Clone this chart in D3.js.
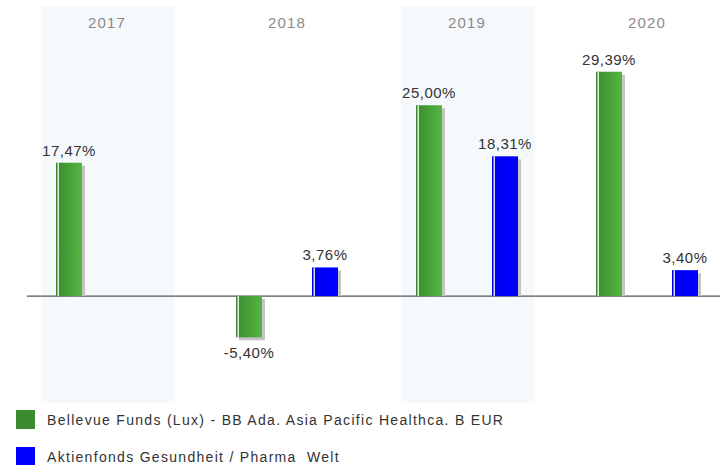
<!DOCTYPE html>
<html lang="de">
<head>
<meta charset="utf-8">
<title>Jahresperformance</title>
<script src="https://cdn.jsdelivr.net/npm/d3@7"></script>
<style>
  body { margin: 0; background: #fff; }
  text { font-family: "Liberation Sans", Arial, sans-serif; white-space: pre; }
</style>
</head>
<body>
<script>
// data
var years = ["2017", "2018", "2019", "2020"];
var seriesNames = ["Bellevue Funds (Lux) - BB Ada. Asia Pacific Healthca. B EUR",
                   "Aktienfonds Gesundheit / Pharma  Welt"];
var fundValues = [17.47, -5.40, 25.00, 29.39];
var benchValues = [null, 3.76, 18.31, 3.40];
var seriesColors = ["#3a8a2e", "#0000ff"];

var w = 720, h = 465;

var svg = d3.select("body").append("svg")
  .attr("width", w)
  .attr("height", h);

// gradients for the bars
var defs = svg.append("defs");
var g1 = defs.append("linearGradient").attr("id", "gGreen");
g1.append("stop").attr("offset", "0%").attr("stop-color", "#3a8a2e");
g1.append("stop").attr("offset", "60%").attr("stop-color", "#4aa63a");
g1.append("stop").attr("offset", "100%").attr("stop-color", "#56b444");
var g2 = defs.append("linearGradient").attr("id", "gBlue");
g2.append("stop").attr("offset", "0%").attr("stop-color", "#0000f0");
g2.append("stop").attr("offset", "100%").attr("stop-color", "#0000ff");

// scales
var x = d3.scaleBand().domain(years).range([17, 737]);
var xInner = d3.scalePoint().domain([0, 1]).range([52, 128]);
var y = d3.scaleLinear().domain([-14, 38]).range([403, 6]);
var barW = 26;

// shaded bands every other year
svg.selectAll("rect.band")
  .data(years.filter(function(d, i) { return i % 2 == 0; }))
  .enter().append("rect")
  .attr("class", "band")
  .attr("x", function(d) { return x(d) + 24; })
  .attr("y", y.range()[1])
  .attr("width", x.bandwidth() - 46)
  .attr("height", y.range()[0] - y.range()[1])
  .attr("fill", "#f5f9fb");

// year labels
svg.selectAll("text.year")
  .data(years)
  .enter().append("text")
  .attr("class", "year")
  .attr("x", function(d) { return x(d) + x.bandwidth() / 2; })
  .attr("y", 28)
  .attr("text-anchor", "middle")
  .attr("fill", "#8a8a8a")
  .attr("font-size", 15)
  .attr("letter-spacing", 1.2)
  .text(function(d) { return d; });

// zero line
svg.append("line")
  .attr("x1", 27).attr("x2", w)
  .attr("y1", y(0)).attr("y2", y(0))
  .attr("stroke", "#555")
  .attr("stroke-width", 1.2);

// flatten the bars
var bars = [];
years.forEach(function(yr, i) {
  [fundValues, benchValues].forEach(function(vals, s) {
    if (vals[i] != null) bars.push({ year: yr, s: s, v: vals[i] });
  });
});

function bx(d) { return x(d.year) + xInner(d.s) - barW / 2; }
function btop(d) { return Math.min(y(d.v), y(0)); }
function bh(d) { return Math.abs(y(d.v) - y(0)); }

var gb = svg.append("g");

// shadow
gb.selectAll("rect.shadow")
  .data(bars).enter().append("rect")
  .attr("x", function(d) { return bx(d) + 3; })
  .attr("y", function(d) { return btop(d) + 3; })
  .attr("width", barW)
  .attr("height", function(d) { return Math.max(0, bh(d) - (d.v > 0 ? 3 : 0)); })
  .attr("fill", "#c4c4c4");

// bar body
gb.selectAll("rect.bar")
  .data(bars).enter().append("rect")
  .attr("x", bx)
  .attr("y", btop)
  .attr("width", barW)
  .attr("height", bh)
  .attr("fill", function(d) { return d.s == 0 ? "url(#gGreen)" : "url(#gBlue)"; });

// white highlight stripe near the left edge
gb.selectAll("rect.hl")
  .data(bars).enter().append("rect")
  .attr("x", function(d) { return bx(d) + 1.5; })
  .attr("y", btop)
  .attr("width", 1.5)
  .attr("height", bh)
  .attr("fill", "#fff")
  .attr("opacity", 0.85);

// value labels
function fmt(v) { return v.toFixed(2).replace(".", ",") + "%"; }
svg.selectAll("text.val")
  .data(bars).enter().append("text")
  .attr("class", "val")
  .attr("x", function(d) { return bx(d) + barW / 2; })
  .attr("y", function(d) { return d.v >= 0 ? y(d.v) - 7 : y(d.v) + 21; })
  .attr("text-anchor", "middle")
  .attr("fill", "#333")
  .attr("font-size", 15)
  .attr("letter-spacing", 0.5)
  .text(function(d) { return fmt(d.v); });

// legend
var leg = svg.selectAll("g.leg")
  .data(seriesNames).enter().append("g")
  .attr("class", "leg")
  .attr("transform", function(d, i) { return "translate(16," + (410 + i * 37) + ")"; });
leg.append("rect")
  .attr("width", 19).attr("height", 19)
  .attr("fill", function(d, i) { return seriesColors[i]; });
leg.append("text")
  .attr("x", 31).attr("y", 15)
  .attr("fill", "#333")
  .attr("font-size", 14)
  .attr("letter-spacing", 1.3)
  .text(function(d) { return d; });
</script>
</body>
</html>
